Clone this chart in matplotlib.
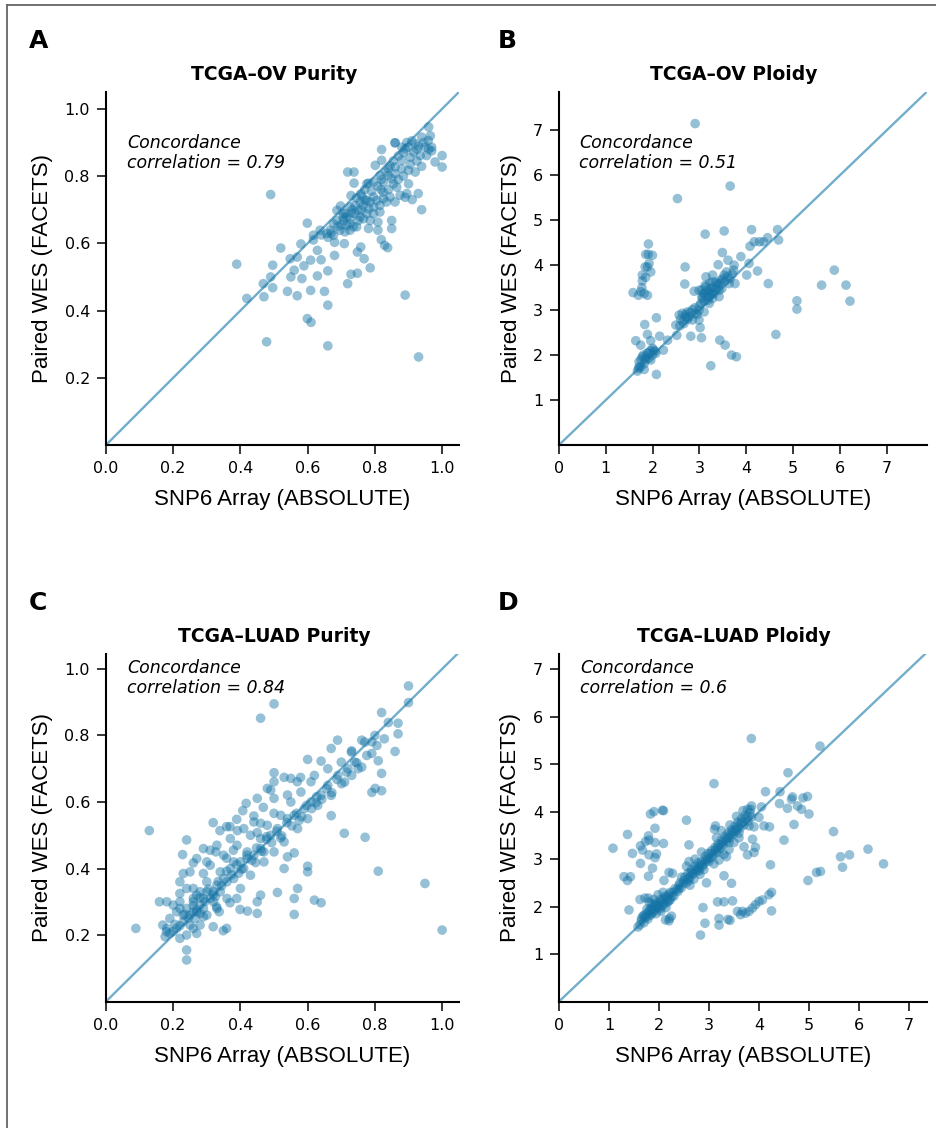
import numpy as np
import matplotlib.pyplot as plt
from matplotlib.lines import Line2D

# ---- data (x = SNP6/ABSOLUTE, y = WES/FACETS) ----
ov_purity = [
    (0.389, 0.538), (0.490, 0.745), (0.419, 0.436), (0.470, 0.441), (0.468, 0.480),
    (0.478, 0.307), (0.496, 0.535), (0.490, 0.500), (0.496, 0.468), (0.520, 0.586),
    (0.540, 0.457), (0.550, 0.500), (0.548, 0.554), (0.569, 0.444), (0.569, 0.559),
    (0.580, 0.598), (0.589, 0.533), (0.583, 0.495), (0.560, 0.520), (0.599, 0.660),
    (0.599, 0.376), (0.610, 0.365), (0.609, 0.460), (0.609, 0.550), (0.629, 0.579),
    (0.629, 0.503), (0.640, 0.551), (0.650, 0.457), (0.660, 0.416), (0.660, 0.295),
    (0.660, 0.518), (0.680, 0.564), (0.617, 0.610), (0.640, 0.625), (0.660, 0.618),
    (0.680, 0.603), (0.698, 0.711), (0.706, 0.678), (0.709, 0.599), (0.719, 0.480),
    (0.729, 0.508), (0.748, 0.511), (0.748, 0.574), (0.758, 0.589), (0.768, 0.554),
    (0.786, 0.527), (0.719, 0.812), (0.738, 0.812), (0.738, 0.779), (0.729, 0.742),
    (0.758, 0.747), (0.781, 0.779), (0.809, 0.639), (0.819, 0.611), (0.829, 0.594),
    (0.838, 0.587), (0.809, 0.663), (0.850, 0.668), (0.850, 0.644), (0.890, 0.446),
    (0.930, 0.262), (0.939, 0.700), (0.929, 0.748), (0.911, 0.730), (0.890, 0.737),
    (0.900, 0.777), (0.820, 0.879), (0.860, 0.899), (0.960, 0.946), (1.000, 0.861),
    (1.000, 0.827), (0.979, 0.842), (0.969, 0.875), (0.939, 0.829),
    (0.860, 0.899), (0.880, 0.886), (0.900, 0.886), (0.920, 0.896), (0.939, 0.916),
    (0.930, 0.889), (0.949, 0.886), (0.959, 0.906), (0.969, 0.886), (0.915, 0.871),
    (0.935, 0.861), (0.954, 0.861), (0.905, 0.856), (0.890, 0.881),
    (0.801, 0.832), (0.820, 0.847), (0.840, 0.822), (0.860, 0.827), (0.880, 0.822),
    (0.900, 0.817), (0.920, 0.812), (0.840, 0.802), (0.860, 0.807), (0.815, 0.802),
    (0.850, 0.792), (0.880, 0.847),
    (0.776, 0.777), (0.796, 0.782), (0.825, 0.782), (0.855, 0.777), (0.865, 0.767),
    (0.825, 0.752), (0.796, 0.738), (0.771, 0.728), (0.786, 0.723), (0.806, 0.728),
    (0.825, 0.733), (0.845, 0.738), (0.875, 0.743), (0.895, 0.748),
    (0.756, 0.723), (0.766, 0.713), (0.776, 0.728), (0.781, 0.703), (0.796, 0.708),
    (0.815, 0.713), (0.835, 0.723), (0.860, 0.723), (0.726, 0.708), (0.741, 0.713),
    (0.751, 0.698),
    (0.687, 0.698), (0.706, 0.688), (0.716, 0.678), (0.726, 0.673), (0.741, 0.688),
    (0.756, 0.678), (0.776, 0.688), (0.796, 0.688), (0.815, 0.693), (0.706, 0.668),
    (0.726, 0.658), (0.736, 0.649), (0.751, 0.668), (0.766, 0.673), (0.687, 0.668),
    (0.677, 0.658), (0.716, 0.653), (0.786, 0.668), (0.781, 0.644), (0.746, 0.649),
    (0.657, 0.629), (0.677, 0.624), (0.667, 0.639), (0.696, 0.639), (0.637, 0.639),
    (0.617, 0.624), (0.711, 0.634), (0.726, 0.639),
    (0.700, 0.655), (0.712, 0.690), (0.733, 0.700), (0.745, 0.735), (0.762, 0.740),
    (0.770, 0.760), (0.790, 0.755), (0.808, 0.770), (0.820, 0.790), (0.832, 0.812),
    (0.845, 0.830), (0.855, 0.845), (0.870, 0.860), (0.885, 0.870), (0.895, 0.900),
    (0.910, 0.905), (0.925, 0.880), (0.945, 0.900), (0.960, 0.880), (0.965, 0.920),
    (0.870, 0.790), (0.885, 0.800), (0.905, 0.835), (0.925, 0.845), (0.840, 0.760),
    (0.818, 0.760), (0.760, 0.700), (0.730, 0.690), (0.690, 0.650), (0.670, 0.630),
]

ov_ploidy = [
    (2.908, 7.148), (2.530, 5.480), (3.656, 5.760), (3.122, 4.690), (3.528, 4.760),
    (4.113, 4.790), (4.668, 4.790), (4.690, 4.560), (4.455, 4.610), (4.280, 4.520),
    (4.170, 4.520), (4.080, 4.420), (4.370, 4.520), (3.490, 4.280), (3.885, 4.190),
    (3.610, 4.110), (3.400, 4.010), (3.740, 4.000), (3.730, 3.890), (4.060, 4.040),
    (4.010, 3.780), (4.240, 3.870), (4.470, 3.590), (2.694, 3.960), (2.687, 3.580),
    (2.887, 3.420), (3.015, 2.610), (3.043, 2.385), (2.815, 2.420), (2.516, 2.440),
    (2.495, 2.667), (2.710, 2.850), (3.243, 1.763), (3.435, 2.333), (3.549, 2.222),
    (3.685, 2.000), (3.790, 1.963), (4.633, 2.459), (5.082, 3.207), (5.082, 3.022),
    (5.609, 3.556), (5.880, 3.889), (6.130, 3.556), (6.215, 3.200), (2.081, 2.830),
    (2.081, 1.570), (1.832, 2.680), (1.890, 2.460), (2.150, 2.420), (2.230, 2.110),
    (1.640, 2.320), (1.746, 2.220), (1.960, 2.320), (2.320, 2.330),
    (1.910, 4.470), (1.853, 4.240), (1.910, 4.240), (1.996, 4.220), (1.924, 4.040),
    (1.890, 3.960), (1.960, 3.850), (1.780, 3.780), (1.850, 3.730), (1.780, 3.650),
    (1.770, 3.500), (1.746, 3.410), (1.582, 3.390), (1.696, 3.330), (1.890, 3.330),
    (1.820, 3.370), (1.840, 3.960),
    (1.675, 1.644), (1.746, 1.740), (1.710, 1.850), (1.820, 1.810), (1.780, 1.960),
    (1.890, 2.040), (1.924, 1.930), (1.996, 2.000), (2.030, 2.110), (1.853, 1.890),
    (1.960, 1.890), (2.070, 2.040), (1.710, 1.740), (1.820, 1.680),
    (2.566, 2.890), (2.637, 2.930), (2.744, 2.960), (2.850, 3.010), (2.920, 2.930),
    (2.990, 3.000), (3.030, 3.150), (3.065, 3.260), (3.100, 3.370), (3.170, 3.440),
    (3.240, 3.480), (3.140, 3.520), (3.280, 3.630), (3.385, 3.590), (3.456, 3.670),
    (3.528, 3.780), (3.578, 3.850), (3.310, 3.370), (3.280, 3.260), (3.420, 3.300),
    (3.210, 3.150), (3.100, 2.960), (2.990, 2.780), (2.850, 2.780), (2.670, 2.700),
    (2.780, 2.850), (3.140, 3.740), (3.280, 3.780), (2.990, 3.440), (3.635, 3.590),
    (3.760, 3.590), (3.420, 3.440), (3.080, 3.370), (3.210, 3.300),
    (2.60, 2.80), (2.70, 2.90), (2.80, 2.95), (2.90, 3.05), (3.00, 3.10), (3.05, 3.30),
    (3.10, 3.20), (3.15, 3.30), (3.20, 3.40), (3.25, 3.35), (3.30, 3.50), (3.35, 3.45),
    (3.40, 3.55), (3.45, 3.60), (3.50, 3.70), (3.55, 3.65), (3.60, 3.75), (3.70, 3.80),
    (3.05, 3.45), (3.12, 3.55), (3.22, 3.60), (3.18, 3.22), (3.28, 3.42), (2.95, 2.90),
    (2.75, 2.80), (2.65, 2.75), (2.58, 2.65), (3.35, 3.62), (3.48, 3.48), (3.65, 3.70),
    (1.95, 2.10), (2.00, 2.15), (1.85, 1.95), (1.75, 1.90), (1.70, 1.70), (2.05, 2.08),
    (1.90, 2.05), (1.80, 2.00),
]

luad_purity = [
    (0.089, 0.220), (0.129, 0.514), (0.240, 0.155), (0.240, 0.125), (0.460, 0.852),
    (0.500, 0.895), (0.900, 0.949), (0.900, 0.899), (0.820, 0.869), (0.840, 0.839),
    (0.869, 0.837), (0.869, 0.805), (0.860, 0.752), (0.820, 0.686), (0.820, 0.634),
    (0.791, 0.629), (0.801, 0.641), (0.771, 0.494), (0.709, 0.506), (0.810, 0.392),
    (0.949, 0.355), (1.000, 0.215), (0.670, 0.559), (0.640, 0.297), (0.620, 0.305),
    (0.560, 0.262), (0.560, 0.310), (0.570, 0.340), (0.510, 0.328), (0.450, 0.265),
    (0.421, 0.272), (0.399, 0.277), (0.450, 0.300), (0.460, 0.320), (0.530, 0.400),
    (0.540, 0.435), (0.560, 0.447), (0.600, 0.407), (0.600, 0.390), (0.359, 0.220),
    (0.349, 0.213), (0.369, 0.297), (0.389, 0.310), (0.319, 0.225), (0.270, 0.205),
    (0.176, 0.195), (0.181, 0.220), (0.169, 0.230), (0.190, 0.250), (0.159, 0.300),
    (0.181, 0.300), (0.220, 0.325), (0.220, 0.360), (0.230, 0.385), (0.228, 0.442),
    (0.240, 0.486), (0.260, 0.417), (0.290, 0.385), (0.310, 0.455), (0.319, 0.538),
    (0.339, 0.514), (0.359, 0.526), (0.369, 0.526), (0.391, 0.514), (0.389, 0.548),
    (0.407, 0.574), (0.417, 0.596), (0.440, 0.558), (0.450, 0.611), (0.468, 0.584),
    (0.480, 0.641), (0.490, 0.636), (0.500, 0.688), (0.500, 0.661), (0.500, 0.611),
    (0.500, 0.566), (0.530, 0.674), (0.550, 0.671), (0.540, 0.621), (0.569, 0.661),
    (0.579, 0.674), (0.600, 0.728), (0.610, 0.661), (0.640, 0.723), (0.670, 0.761),
    (0.689, 0.786), (0.731, 0.754), (0.761, 0.786), (0.791, 0.781), (0.791, 0.746),
    (0.810, 0.724), (0.450, 0.508), (0.460, 0.536), (0.478, 0.496), (0.379, 0.455),
    (0.359, 0.431), (0.327, 0.450), (0.300, 0.420), (0.260, 0.340), (0.280, 0.265),
    (0.290, 0.255), (0.337, 0.270), (0.329, 0.285),
    (0.190, 0.205), (0.205, 0.232), (0.220, 0.228), (0.235, 0.262), (0.245, 0.251),
    (0.260, 0.288), (0.270, 0.276), (0.280, 0.312), (0.295, 0.301), (0.305, 0.338),
    (0.319, 0.322), (0.334, 0.361), (0.344, 0.348), (0.359, 0.392), (0.374, 0.381),
    (0.389, 0.412), (0.404, 0.398), (0.419, 0.440), (0.434, 0.425), (0.448, 0.462),
    (0.463, 0.452), (0.478, 0.488), (0.493, 0.478), (0.508, 0.512), (0.523, 0.498),
    (0.538, 0.538), (0.553, 0.528), (0.567, 0.566), (0.582, 0.556), (0.597, 0.590),
    (0.612, 0.580), (0.627, 0.616), (0.642, 0.608), (0.657, 0.640), (0.672, 0.628),
    (0.687, 0.668), (0.701, 0.655), (0.716, 0.690), (0.731, 0.680), (0.746, 0.718),
    (0.761, 0.705), (0.776, 0.740), (0.806, 0.770), (0.828, 0.790), (0.520, 0.492),
    (0.445, 0.418), (0.395, 0.386), (0.325, 0.315), (0.265, 0.250), (0.575, 0.545),
    (0.625, 0.598),
    (0.25, 0.39), (0.27, 0.43), (0.29, 0.46), (0.31, 0.41), (0.33, 0.47), (0.35, 0.44),
    (0.37, 0.49), (0.39, 0.47), (0.41, 0.52), (0.43, 0.50), (0.44, 0.54), (0.30, 0.36),
    (0.24, 0.34), (0.26, 0.31), (0.28, 0.33), (0.22, 0.30), (0.20, 0.29), (0.21, 0.27),
    (0.23, 0.26), (0.27, 0.27), (0.32, 0.30), (0.34, 0.39), (0.36, 0.36), (0.38, 0.42),
    (0.42, 0.45), (0.46, 0.49), (0.48, 0.53), (0.52, 0.56), (0.55, 0.60), (0.58, 0.63),
    (0.62, 0.68), (0.66, 0.70), (0.70, 0.72), (0.73, 0.75), (0.77, 0.78), (0.80, 0.80),
    (0.30, 0.26), (0.33, 0.28), (0.36, 0.31), (0.40, 0.34), (0.43, 0.38), (0.47, 0.42),
    (0.50, 0.45), (0.53, 0.48), (0.57, 0.52), (0.60, 0.55), (0.63, 0.59), (0.67, 0.62),
    (0.71, 0.66), (0.75, 0.70), (0.26, 0.22), (0.24, 0.20), (0.22, 0.19), (0.28, 0.23),
    (0.21, 0.22), (0.23, 0.24), (0.25, 0.23), (0.26, 0.27), (0.28, 0.29), (0.29, 0.28),
    (0.31, 0.31), (0.32, 0.33), (0.24, 0.28), (0.26, 0.30), (0.27, 0.32), (0.29, 0.31),
    (0.30, 0.33), (0.25, 0.26), (0.33, 0.35), (0.35, 0.37), (0.37, 0.40), (0.40, 0.42),
    (0.42, 0.43), (0.44, 0.44), (0.46, 0.46), (0.49, 0.50), (0.51, 0.52), (0.54, 0.55),
    (0.56, 0.56), (0.59, 0.58), (0.61, 0.60), (0.64, 0.62), (0.66, 0.65), (0.69, 0.68),
    (0.72, 0.70), (0.74, 0.72), (0.22, 0.28), (0.20, 0.21), (0.18, 0.21), (0.34, 0.33),
    (0.38, 0.37), (0.41, 0.40), (0.47, 0.45),
]

luad_ploidy = [
    (3.847, 5.54), (5.22, 5.38), (3.10, 4.59), (4.58, 4.82), (4.13, 4.42), (4.42, 4.42),
    (4.41, 4.17), (4.57, 4.07), (4.67, 4.31), (4.65, 4.26), (4.77, 4.12), (4.85, 4.05),
    (4.88, 4.29), (4.97, 4.32), (5.00, 3.95), (4.70, 3.73), (4.50, 3.40), (4.10, 3.70),
    (4.21, 3.68), (4.05, 4.10), (5.49, 3.58), (5.63, 3.05), (5.81, 3.09), (5.67, 2.83),
    (6.18, 3.21), (6.49, 2.90), (5.23, 2.74), (5.15, 2.72), (4.98, 2.55), (4.23, 2.88),
    (4.25, 2.30), (4.20, 2.25), (4.25, 1.91), (4.07, 2.14), (4.00, 2.11), (3.93, 2.04),
    (3.87, 1.97), (3.80, 1.90), (3.73, 1.86), (3.63, 1.83), (3.57, 1.90), (3.67, 1.90),
    (3.47, 2.12), (3.30, 2.10), (3.17, 2.10), (3.20, 1.75), (3.20, 1.61), (3.42, 1.71),
    (3.38, 1.73), (2.88, 1.98), (2.92, 1.65), (2.83, 1.40), (3.45, 2.49), (3.30, 2.65),
    (2.95, 2.50), (2.55, 3.82), (2.60, 3.30), (3.13, 3.70), (3.11, 3.63), (4.00, 3.88),
    (3.85, 4.12), (3.77, 4.05), (3.90, 3.68), (3.87, 3.42), (3.93, 3.25), (3.90, 3.14),
    (3.77, 3.09), (3.70, 3.26),
    (1.08, 3.23), (1.37, 3.52), (1.30, 2.63), (1.37, 2.55), (1.43, 2.63), (1.40, 1.93),
    (1.47, 3.12), (1.63, 3.28), (1.67, 3.19), (1.63, 2.91), (1.79, 2.64), (1.80, 3.40),
    (1.79, 3.49), (1.73, 3.37), (1.92, 3.35), (1.92, 3.65), (1.83, 3.95), (1.90, 4.00),
    (2.07, 4.03), (2.09, 4.02), (2.09, 3.33), (1.95, 3.11), (1.80, 3.09), (1.92, 3.03),
    (1.87, 2.81), (2.20, 2.72), (2.27, 2.70), (2.10, 2.55), (1.62, 2.15), (1.79, 2.18),
    (2.13, 1.72), (2.21, 1.75),
    (1.58, 1.57), (1.65, 1.70), (1.70, 1.66), (1.72, 1.78), (1.75, 1.85), (1.78, 1.74),
    (1.80, 1.90), (1.83, 1.82), (1.85, 1.96), (1.88, 1.88), (1.90, 2.02), (1.92, 1.93),
    (1.95, 2.08), (1.97, 1.98), (2.00, 2.05), (2.02, 1.95), (2.05, 2.12), (2.07, 2.02),
    (2.10, 2.18), (2.12, 2.06), (2.15, 2.20), (2.18, 2.10), (2.20, 2.25), (2.23, 2.15),
    (2.27, 2.30), (2.30, 2.22), (1.68, 1.80), (1.76, 1.95), (1.86, 2.06), (1.94, 1.85),
    (2.04, 1.90), (2.14, 1.98), (1.80, 2.10), (1.72, 2.18), (1.90, 2.15), (1.98, 2.25),
    (2.08, 2.30), (2.25, 1.80), (2.20, 1.70), (1.62, 1.62),
    (2.35, 2.35), (2.40, 2.45), (2.45, 2.40), (2.50, 2.55), (2.55, 2.50), (2.58, 2.70),
    (2.62, 2.62), (2.65, 2.78), (2.68, 2.70), (2.72, 2.85), (2.75, 2.75), (2.78, 2.92),
    (2.80, 2.82), (2.85, 2.95), (2.88, 2.88), (2.92, 3.05), (2.95, 2.95), (2.98, 3.12),
    (2.55, 2.85), (2.62, 2.45), (2.70, 2.58), (2.82, 2.68), (2.90, 2.78), (2.45, 2.62),
    (2.60, 2.95), (2.72, 3.00), (2.85, 3.15),
    (3.02, 3.02), (3.05, 3.18), (3.08, 3.10), (3.12, 3.25), (3.15, 3.15), (3.18, 3.32),
    (3.22, 3.22), (3.25, 3.40), (3.28, 3.30), (3.32, 3.48), (3.35, 3.38), (3.38, 3.55),
    (3.42, 3.45), (3.45, 3.62), (3.48, 3.52), (3.52, 3.70), (3.55, 3.60), (3.58, 3.78),
    (3.62, 3.65), (3.65, 3.85), (3.70, 3.72), (3.72, 3.92), (3.78, 3.80), (3.82, 3.98),
    (3.85, 3.88), (3.20, 2.98), (3.30, 3.10), (3.40, 3.20), (3.50, 3.35), (3.60, 3.45),
    (3.10, 2.90), (3.25, 3.60), (3.42, 3.72), (3.55, 3.90), (3.68, 4.02), (3.35, 3.05),
    (3.15, 3.45),
    (1.65, 1.75), (1.70, 1.82), (1.75, 1.78), (1.82, 1.95), (1.87, 1.92), (1.93, 2.05),
    (1.98, 2.02), (2.03, 2.15), (2.08, 2.08), (2.13, 2.22), (2.17, 2.15), (2.22, 2.30),
    (2.26, 2.22), (2.32, 2.38), (2.38, 2.32), (2.42, 2.50), (2.48, 2.48), (2.52, 2.62),
    (2.57, 2.58), (2.63, 2.72), (2.67, 2.68), (2.73, 2.80), (2.77, 2.78), (2.83, 2.88),
    (2.87, 2.85), (2.93, 2.98), (2.97, 3.00), (3.03, 3.12), (3.07, 3.05), (3.13, 3.20),
    (3.17, 3.25), (3.23, 3.30), (3.27, 3.35), (3.33, 3.42), (3.37, 3.45), (3.43, 3.52),
    (3.47, 3.58), (3.53, 3.62), (3.57, 3.68), (3.63, 3.75), (3.67, 3.78), (3.73, 3.85),
    (3.77, 3.90), (3.83, 4.05), (3.80, 3.70), (3.60, 3.55), (3.40, 3.35), (3.20, 3.15),
    (3.00, 2.95), (2.80, 2.75), (2.60, 2.55), (2.40, 2.38), (2.20, 2.12), (2.00, 1.98),
    (1.85, 1.85),
]

titles = ['TCGA\u2013OV Purity', 'TCGA\u2013OV Ploidy', 'TCGA\u2013LUAD Purity', 'TCGA\u2013LUAD Ploidy']
letters = ['A', 'B', 'C', 'D']
concordance = ['0.79', '0.51', '0.84', '0.6']
purity_ticks = [0.0, 0.2, 0.4, 0.6, 0.8, 1.0]
ploidy_ticks = [0, 1, 2, 3, 4, 5, 6, 7]

point_color = '#1574a6'
line_color = '#72adcb'

fig = plt.figure(figsize=(9.36, 11.28), dpi=100)

# frame around the figure (left and top edges visible)
fig.add_artist(Line2D([7.5 / 936, 7.5 / 936], [0, 1 - 5 / 1128], color='#666666', lw=1.3))
fig.add_artist(Line2D([7.5 / 936, 1], [1 - 5 / 1128, 1 - 5 / 1128], color='#666666', lw=1.3))

specs = [
    # data, rect, xlim, ylim, text x, text y (axes), ylabel x, xlabel y
    (ov_purity, [0.1132, 0.6055, 0.3771, 0.3129], 1.05, 1.05, 0.0595, (0.841, 0.785), -0.181, -0.170),
    (ov_ploidy, [0.5972, 0.6055, 0.3932, 0.3129], 7.86, 7.85, 0.054, (0.841, 0.785), -0.130, -0.170),
    (luad_purity, [0.1132, 0.1121, 0.3771, 0.3081], 1.05, 1.045, 0.0595, (0.946, 0.889), -0.181, -0.1727),
    (luad_ploidy, [0.5972, 0.1121, 0.3932, 0.3081], 7.36, 7.32, 0.058, (0.946, 0.889), -0.133, -0.1727),
]

for i, (data, rect, xmax, ymax, tx, ty, ylx, xly) in enumerate(specs):
    ax = fig.add_axes(rect)
    pts = np.array(data)
    ax.scatter(pts[:, 0], pts[:, 1], s=48, color=point_color, alpha=0.45,
               edgecolors='none', zorder=3)
    ax.axline((0, 0), slope=1, color=line_color, lw=1.7, zorder=2)
    ax.set_xlim(0, xmax)
    ax.set_ylim(0, ymax)

    if i % 2 == 0:
        ax.set_xticks(purity_ticks)
        ax.set_xticklabels(['{:.1f}'.format(t) for t in purity_ticks])
        ax.set_yticks(purity_ticks[1:])
        ax.set_yticklabels(['{:.1f}'.format(t) for t in purity_ticks[1:]])
    else:
        ax.set_xticks(ploidy_ticks)
        ax.set_xticklabels([str(t) for t in ploidy_ticks])
        ax.set_yticks(ploidy_ticks[1:])
        ax.set_yticklabels([str(t) for t in ploidy_ticks[1:]])

    for side in ['top', 'right']:
        ax.spines[side].set_visible(False)
    for side in ['left', 'bottom']:
        ax.spines[side].set_linewidth(1.5)
    ax.tick_params(length=6.5, width=1.1, pad=5, labelsize=11.5)
    for lab in ax.get_xticklabels() + ax.get_yticklabels():
        lab.set_fontfamily('DejaVu Sans')

    ax.text(0.476, 1.034, titles[i], transform=ax.transAxes, ha='center', va='baseline',
            fontsize=13.5, fontweight='bold', family='DejaVu Sans')
    ax.text(tx, ty[0], 'Concordance', transform=ax.transAxes, ha='left', va='baseline',
            fontsize=12.5, style='italic', family='DejaVu Sans')
    ax.text(tx, ty[1], 'correlation = ' + concordance[i], transform=ax.transAxes,
            ha='left', va='baseline', fontsize=12.5, style='italic', family='DejaVu Sans')
    ax.text(ylx, 0.5, 'Paired WES (FACETS)', transform=ax.transAxes, rotation=90,
            ha='center', va='center', fontsize=16, family='Liberation Sans')
    ax.text(0.5, xly, 'SNP6 Array (ABSOLUTE)', transform=ax.transAxes, ha='center',
            va='baseline', fontsize=16, family='Liberation Sans')

# panel letters
fig.text(29 / 936, 1 - 48 / 1128, 'A', fontsize=18, fontweight='bold', family='DejaVu Sans')
fig.text(498 / 936, 1 - 48 / 1128, 'B', fontsize=18, fontweight='bold', family='DejaVu Sans')
fig.text(29 / 936, 1 - 610 / 1128, 'C', fontsize=18, fontweight='bold', family='DejaVu Sans')
fig.text(498 / 936, 1 - 610 / 1128, 'D', fontsize=18, fontweight='bold', family='DejaVu Sans')

fig.savefig('out.png', dpi=100)
